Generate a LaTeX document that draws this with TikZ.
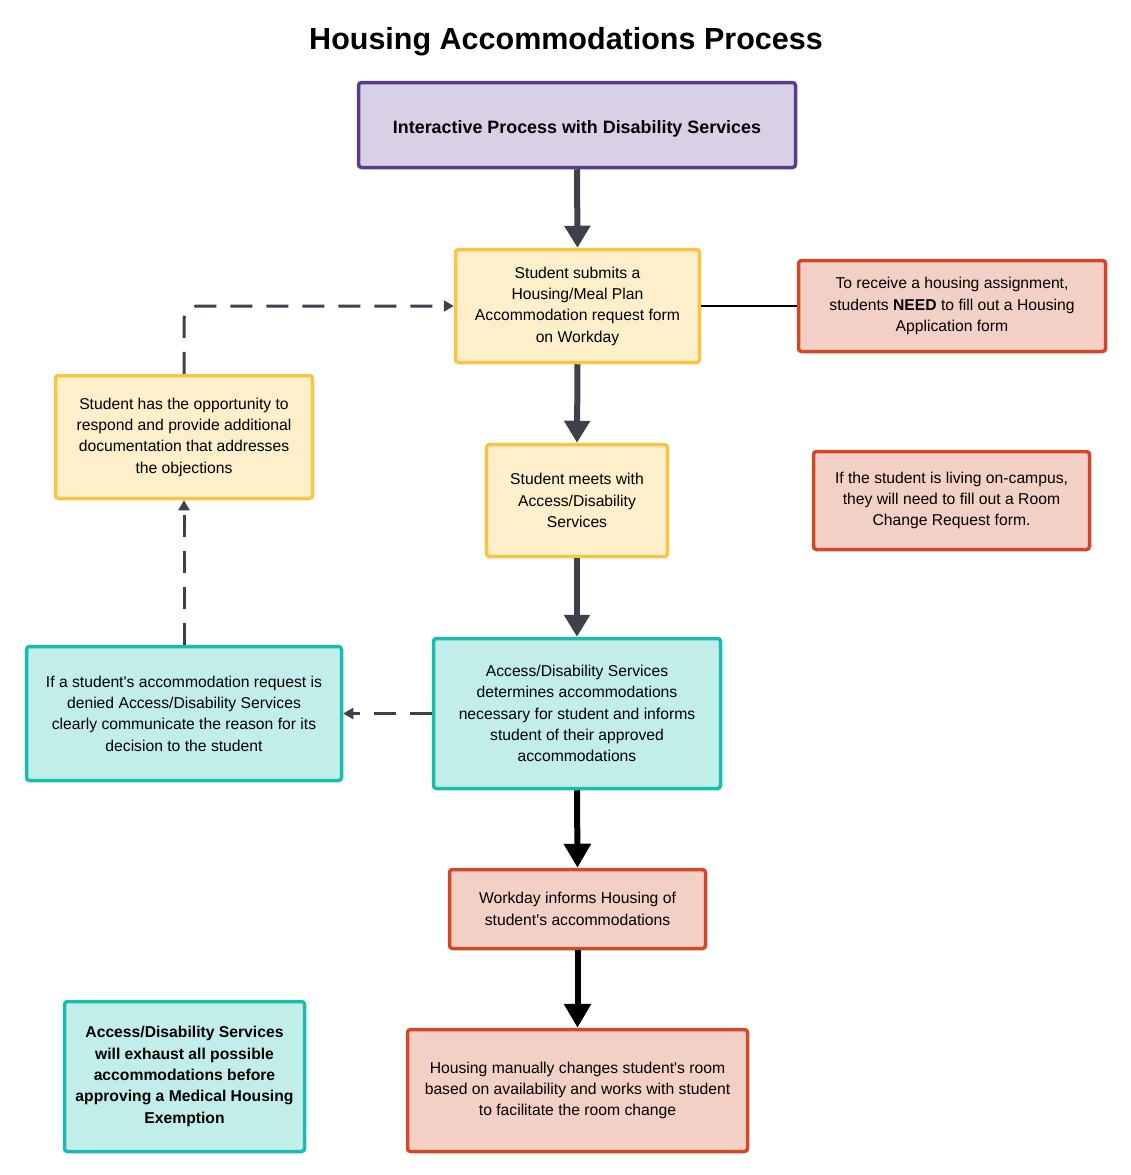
\documentclass[tikz,border=0pt]{standalone}
\usepackage{fontspec}
\setmainfont{Liberation Sans}[Ligatures=TeXOff]
\usetikzlibrary{arrows.meta,positioning}
\definecolor{pfill}{HTML}{D8D0E4}
\definecolor{pline}{HTML}{5B3C88}
\definecolor{yfill}{HTML}{FDEFC9}
\definecolor{yline}{HTML}{F8C443}
\definecolor{rfill}{HTML}{F3D0C5}
\definecolor{rline}{HTML}{D04A2A}
\definecolor{tfill}{HTML}{C2EEEA}
\definecolor{tline}{HTML}{1BBCB0}
\definecolor{dark}{HTML}{3D4149}
\tikzset{
  box/.style={rectangle, rounded corners=3pt, line width=3.5pt, align=center,
    font=\fontsize{15.7}{21.3}\selectfont, inner sep=0pt},
  pbox/.style={box, draw=pline, fill=pfill},
  ybox/.style={box, draw=yline, fill=yfill},
  rbox/.style={box, draw=rline, fill=rfill},
  tbox/.style={box, draw=tline, fill=tfill},
  flow/.style={line width=6pt, draw=dark, -{Triangle[width=25pt,length=22pt]}},
  bflow/.style={line width=6pt, draw=black, -{Triangle[width=26pt,length=24pt]}},
  dflow/.style={line width=3pt, draw=dark, dash pattern=on 22pt off 14pt, -{Triangle[width=11pt,length=10pt]}},
}
\begin{document}
\begin{tikzpicture}[x=1pt,y=-1pt]
\useasboundingbox (0,0) rectangle (1130,1175);
\node (title) at (566,42) {\fontsize{30.5}{34}\selectfont\bfseries Housing Accommodations Process};

\node[pbox, minimum width=437pt, minimum height=85pt] (ip) at (577,125)
  {\fontsize{17.9}{21}\selectfont\bfseries\rule{0pt}{21pt}Interactive Process with Disability Services};

\node[ybox, minimum width=244pt, minimum height=113pt] (sub) at (577.5,306)
  {Student submits a\\Housing/Meal Plan\\Accommodation request form\\on Workday};

\node[rbox, minimum width=307pt, minimum height=91pt] (need) at (952,306)
  {To receive a housing assignment,\\students \textbf{NEED} to fill out a Housing\\Application form};

\node[ybox, minimum width=181pt, minimum height=112pt] (meet) at (577,500.5)
  {Student meets with\\Access/Disability\\Services};

\node[rbox, minimum width=276pt, minimum height=98pt] (room) at (951.5,500.5)
  {If the student is living on-campus,\\they will need to fill out a Room\\Change Request form.};

\node[ybox, minimum width=257pt, minimum height=123pt] (resp) at (184,437)
  {Student has the opportunity to\\respond and provide additional\\documentation that addresses\\the objections};

\node[tbox, minimum width=287pt, minimum height=150pt] (det) at (577,713.5)
  {Access/Disability Services\\determines accommodations\\necessary for student and informs\\student of their approved\\accommodations};

\node[tbox, minimum width=315pt, minimum height=134pt] (deny) at (184,713.5)
  {If a student's accommodation request is\\denied Access/Disability Services\\clearly communicate the reason for its\\decision to the student};

\node[rbox, minimum width=256pt, minimum height=79pt] (wd) at (577.5,909)
  {Workday informs Housing of\\student's accommodations};

\node[rbox, minimum width=340pt, minimum height=122pt] (hm) at (577.5,1090.5)
  {Housing manually changes student's room\\based on availability and works with student\\to facilitate the room change};

\node[tbox, minimum width=240pt, minimum height=150pt] (exh) at (184.5,1076.5)
  {\bfseries Access/Disability Services\\\bfseries will exhaust all possible\\\bfseries accommodations before\\\bfseries approving a Medical Housing\\\bfseries Exemption};

\draw[flow] (ip.south) -- (sub.north);
\draw[flow] (sub.south) -- (meet.north);
\draw[flow] (meet.south) -- (det.north);
\draw[bflow] (det.south) -- (wd.north);
\draw[bflow] (wd.south) -- (hm.north);
\draw[line width=2.5pt, black] (sub.east) -- (need.west);
\draw[dflow] (det.west) -- (deny.east);
\draw[dflow] (deny.north) -- (resp.south);
\draw[dflow, rounded corners=14pt] (resp.north) |- (sub.west);
\end{tikzpicture}
\end{document}
